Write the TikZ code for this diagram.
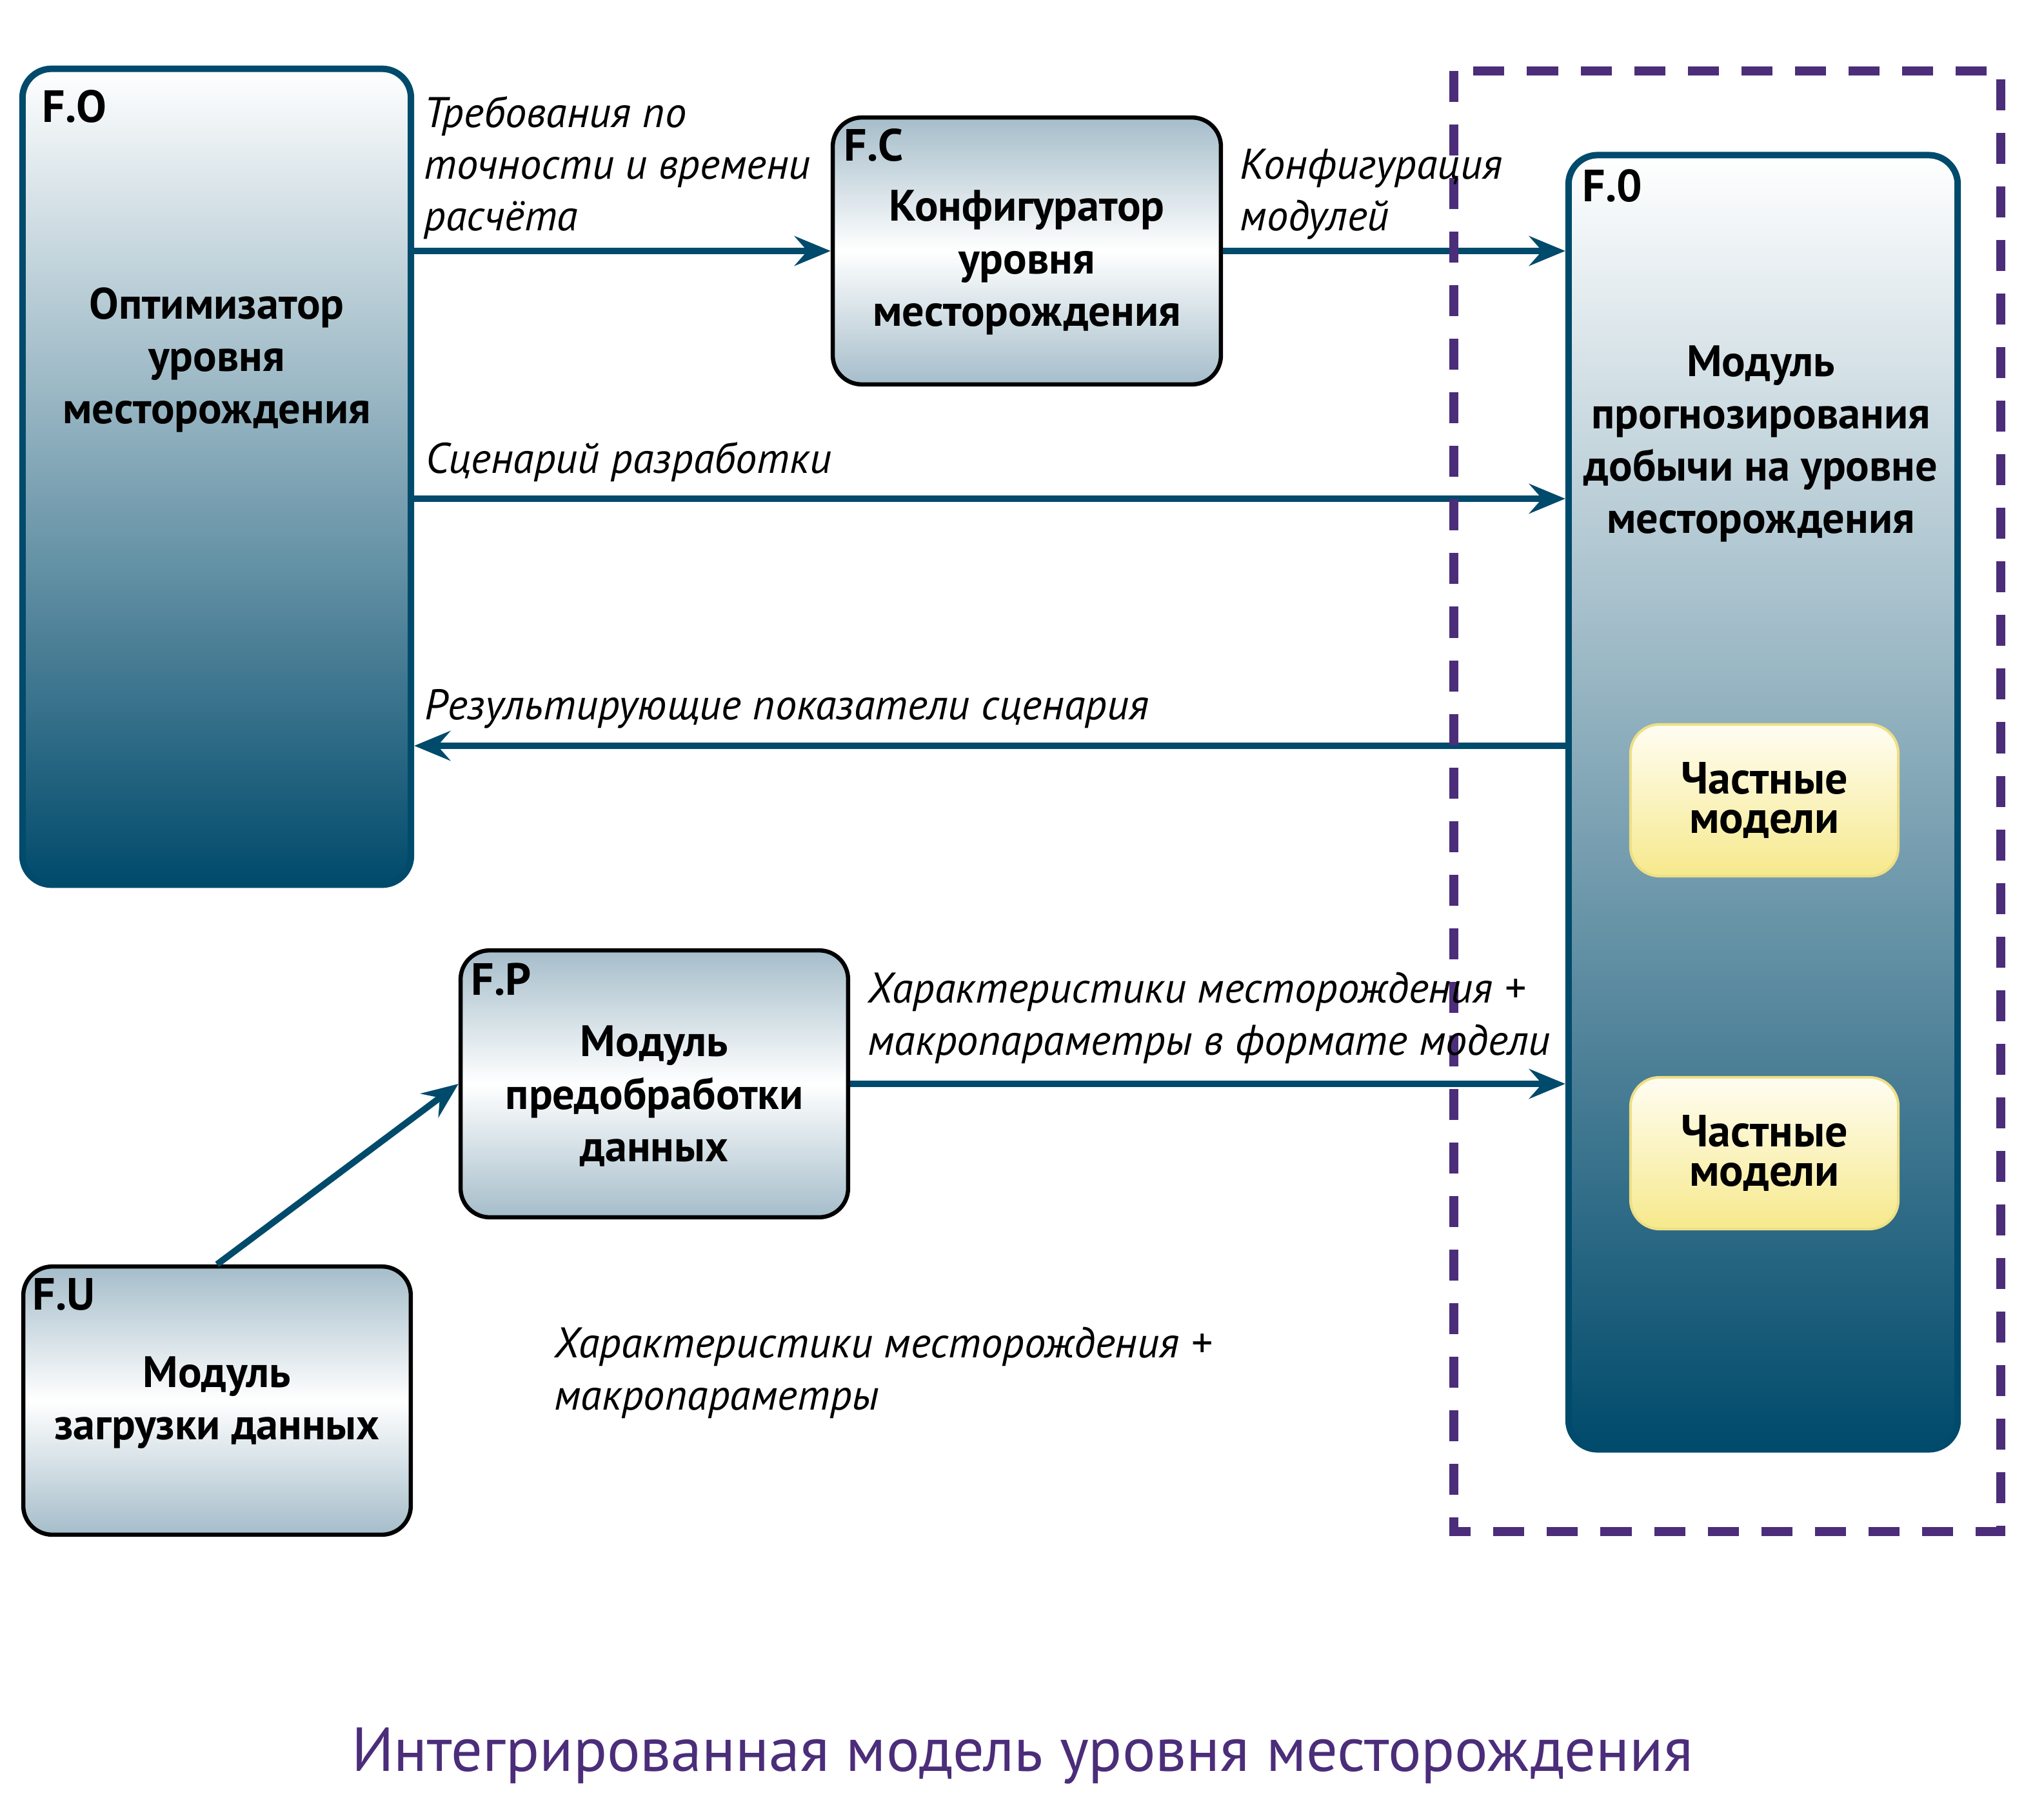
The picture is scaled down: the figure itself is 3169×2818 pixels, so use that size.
\documentclass[tikz,border=0pt]{standalone}
\usepackage{fontspec}
\setmainfont{PT Sans}
\usetikzlibrary{arrows.meta}
\definecolor{tealdk}{HTML}{004A6B}
\definecolor{grayblue}{HTML}{A5BDCA}
\definecolor{purp}{HTML}{4B2D7A}
\definecolor{ytop}{HTML}{FFFDF2}
\definecolor{ybot}{HTML}{F6E98C}
\definecolor{yedge}{HTML}{EEDF85}
\tikzset{
  tealbox/.style={draw=tealdk, line width=0.1cm, rounded corners=0.45cm, top color=white, bottom color=tealdk, inner sep=0pt},
  greybox/.style={draw=black, line width=0.065cm, rounded corners=0.45cm, top color=grayblue, bottom color=grayblue, middle color=white, inner sep=0pt},
  ybox/.style={draw=yedge, line width=0.04cm, rounded corners=0.45cm, top color=ytop, bottom color=ybot, inner sep=0pt,
    minimum width=4.15cm, minimum height=2.35cm, align=center,
    font=\fontsize{19.9pt}{17.6pt}\selectfont\bfseries},
  ttl/.style={font=\fontsize{19.4pt}{23.05pt}\selectfont\bfseries, align=center, inner sep=0pt},
  lbl/.style={font=\fontsize{18.9pt}{22.8pt}\selectfont\itshape, align=left, inner sep=0pt},
  fid/.style={font=\fontsize{19.9pt}{23pt}\selectfont\bfseries, inner sep=0pt, anchor=base west},
  conn/.style={draw=tealdk, line width=0.1cm, -{Stealth[length=0.56cm, width=0.46cm, inset=0.2cm]}},
  zone/.style={draw=purp, line width=0.14cm, dash pattern=on 0.48cm off 0.35cm},
}
\begin{document}
\begin{tikzpicture}[x=0.01cm,y=-0.01cm]
\useasboundingbox (0,0) rectangle (3169,2818);
\fill[white] (0,0) rectangle (3169,2818);

% boxes
\node[tealbox, minimum width=6.02cm, minimum height=12.64cm] (FO) at (336,739) {};
\node[tealbox, minimum width=6.03cm, minimum height=20.05cm] (F0) at (2733.5,1243.5) {};
\node[greybox, minimum width=6.015cm, minimum height=4.135cm] (FC) at (1592,389) {};
\node[greybox, minimum width=6.005cm, minimum height=4.135cm] (FP) at (1014.5,1680) {};
\node[greybox, minimum width=6.005cm, minimum height=4.155cm] (FU) at (336.5,2171) {};
\node[ybox] (Y1) at (2735.5,1240.5) {Частные\\модели};
\node[ybox] (Y2) at (2735.5,1787.5) {Частные\\модели};

% connectors
\coordinate (s1) at (642,773);
\coordinate (r1) at (2427,1156);
\draw[conn] (FO.east |- FC.west) -- (FC.west);
\draw[conn] (FC.east) -- (FC.east -| F0.west);
\draw[conn] (s1 -| FO.east) -- (s1 -| F0.west);
\draw[conn] (r1 -| F0.west) -- (r1 -| FO.east);
\draw[conn] (FP.east) -- (FP.east -| F0.west);
\draw[conn] (FU.north) -- (FP.west);

% dashed zone
\draw[zone] (2254,110) rectangle (3102,2374);

% identifiers
\node[fid] (idFO) at (65,190) {F.O};
\node[fid] (idFC) at (1308,250) {F.C};
\node[fid] (idFP) at (730,1542) {F.P};
\node[fid] (idFU) at (50,2030) {F.U};
\node[fid] (idF0) at (2453,312) {F.0};

% titles
\node[ttl] (tFO) at (336,558) {Оптимизатор\\уровня\\месторождения};
\node[ttl] (tFC) at (1592,407) {Конфигуратор\\уровня\\месторождения};
\node[ttl] (tFP) at (1014.5,1699) {Модуль\\предобработки\\данных};
\node[ttl] (tFU) at (336.5,2174) {Модуль\\загрузки данных};
\node[ttl] (tF0) at (2730,688) {Модуль\\прогнозирования\\добычи на уровне\\месторождения};

% labels
\node[lbl, anchor=west] (l1) at (657,260) {Требования по\\точности и времени\\расчёта};
\node[lbl, anchor=west] (l2) at (1922,301) {Конфигурация\\модулей};
\node[lbl, anchor=base west] (l3) at (660,733) {Сценарий разработки};
\node[lbl, anchor=base west] (l4) at (658,1115) {Результирующие показатели сценария};
\node[lbl, anchor=west] (l5) at (1345,1578) {Характеристики месторождения +\\макропараметры в формате модели};
\node[lbl, anchor=west] (l6) at (859,2128) {Характеристики месторождения +\\макропараметры};

% title
\node[font=\fontsize{27.4pt}{32pt}\selectfont, text=purp, anchor=base, inner sep=0pt] (title) at (1585,2745) {Интегрированная модель уровня месторождения};
\end{tikzpicture}
\end{document}
